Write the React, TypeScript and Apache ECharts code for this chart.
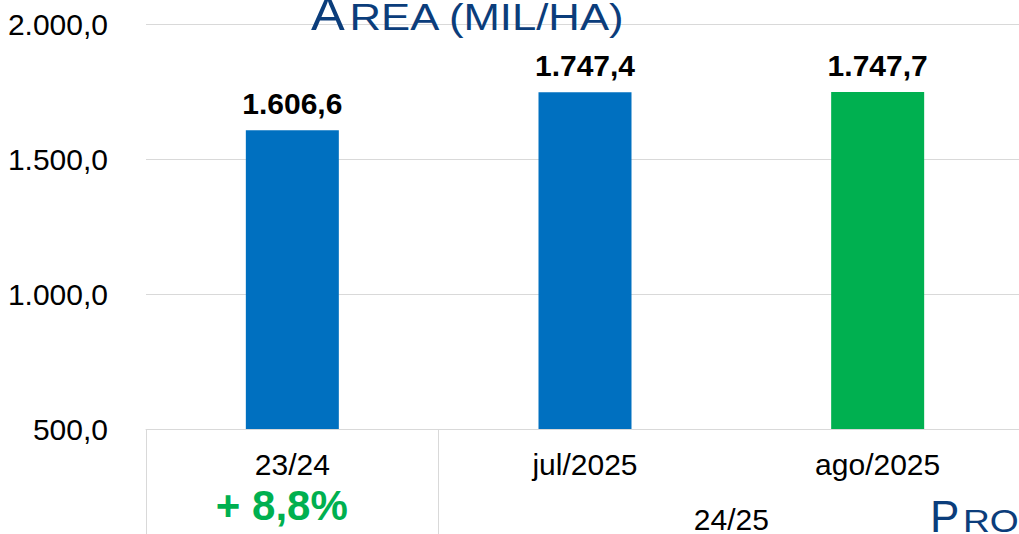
import React, { useEffect, useRef } from "react";
import * as echarts from "echarts";

const categories = ["23/24", "jul/2025", "ago/2025"];
const areaValues = [1606.6, 1747.4, 1747.7];
const barColors = ["#0070C0", "#0070C0", "#00B050"];
const yMin = 500;
const yMax = 2000;
const yStep = 500;
const groupLabel = "24/25";
const groupedCategories = ["jul/2025", "ago/2025"];
const changeLabel = "+ 8,8%";
const titleFirst = "Á";
const titleRest = "REA (MIL/HA)";
const nextTitleFirst = "P";
const nextTitleRest = "RODUÇÃO (MIL T)";

const FONT = '"Liberation Sans", Arial, sans-serif';
const TITLE_COLOR = "#0B3D7B";

function fmtBR(v: number): string {
  const [i, d] = v.toFixed(1).split(".");
  return i.replace(/\B(?=(\d{3})+(?!\d))/g, ".") + "," + d;
}

export default function App() {
  const ref = useRef<HTMLDivElement>(null);

  useEffect(() => {
    if (!ref.current) return;
    const chart = echarts.init(ref.current, null, { renderer: "svg" });
    chart.setOption({
      animation: false,
      backgroundColor: "#ffffff",
      grid: { left: 146, right: 0, top: 24, bottom: 105, containLabel: false },
      xAxis: {
        type: "category",
        data: categories,
        boundaryGap: true,
        axisLine: { show: true, lineStyle: { color: "#D9D9D9", width: 1 } },
        axisTick: {
          show: true,
          length: 110,
          interval: (index: number) => index !== 2,
          lineStyle: { color: "#D9D9D9", width: 1 },
        },
        axisLabel: {
          margin: 20,
          fontFamily: FONT,
          fontSize: 30,
          lineHeight: 30,
          color: "#000000",
          interval: 0,
        },
        splitLine: { show: false },
      },
      yAxis: {
        type: "value",
        min: yMin,
        max: yMax,
        interval: yStep,
        axisLine: { show: false },
        axisTick: { show: false },
        axisLabel: {
          margin: 38,
          fontFamily: FONT,
          fontSize: 30,
          color: "#000000",
          formatter: (v: number) => fmtBR(v),
        },
        splitLine: { show: true, lineStyle: { color: "#D9D9D9", width: 1 } },
      },
      series: [
        {
          type: "bar",
          barWidth: 93,
          data: areaValues.map((v, i) => ({ value: v, itemStyle: { color: barColors[i] } })),
          label: {
            show: true,
            position: "top",
            distance: 12,
            fontFamily: FONT,
            fontSize: 30,
            lineHeight: 30,
            fontWeight: "bold",
            color: "#000000",
            formatter: (p: any) => fmtBR(p.value),
          },
        },
      ],
    });

    const p1 = chart.convertToPixel({ xAxisIndex: 0 }, groupedCategories[0]) as number;
    const p2 = chart.convertToPixel({ xAxisIndex: 0 }, groupedCategories[1]) as number;
    const p0 = chart.convertToPixel({ xAxisIndex: 0 }, categories[0]) as number;
    const groupX = (p1 + p2) / 2;

    chart.setOption({
      graphic: [
        {
          type: "text",
          x: 311,
          y: 14,
          scaleX: 1.1,
          style: { text: titleFirst, fontFamily: FONT, fontSize: 46, fill: TITLE_COLOR, align: "left", verticalAlign: "middle" },
        },
        {
          type: "text",
          x: 349.5,
          y: 16.7,
          scaleX: 1.18,
          style: { text: titleRest, fontFamily: FONT, fontSize: 37, fill: TITLE_COLOR, align: "left", verticalAlign: "middle" },
        },
        {
          type: "text",
          x: p0 - 10.5,
          y: 505.5,
          style: { text: changeLabel, fontFamily: FONT, fontSize: 42, fontWeight: "bold", fill: "#00B050", align: "center", verticalAlign: "middle" },
        },
        {
          type: "text",
          x: groupX,
          y: 519.5,
          style: { text: groupLabel, fontFamily: FONT, fontSize: 30, fill: "#000000", align: "center", verticalAlign: "middle" },
        },
        {
          type: "text",
          x: 930,
          y: 516.3,
          scaleX: 1.0,
          style: { text: nextTitleFirst, fontFamily: FONT, fontSize: 44, fill: TITLE_COLOR, align: "left", verticalAlign: "middle" },
        },
        {
          type: "text",
          x: 963,
          y: 521.3,
          scaleX: 1.2,
          style: { text: nextTitleRest, fontFamily: FONT, fontSize: 31, fill: TITLE_COLOR, align: "left", verticalAlign: "middle" },
        },
      ],
    });

    return () => chart.dispose();
  }, []);

  return (
    <div style={{ position: "fixed", left: 0, top: 0, width: 1019, height: 534, overflow: "hidden", background: "#fff" }}>
      <div ref={ref} style={{ width: 1024, height: 534 }} />
    </div>
  );
}
